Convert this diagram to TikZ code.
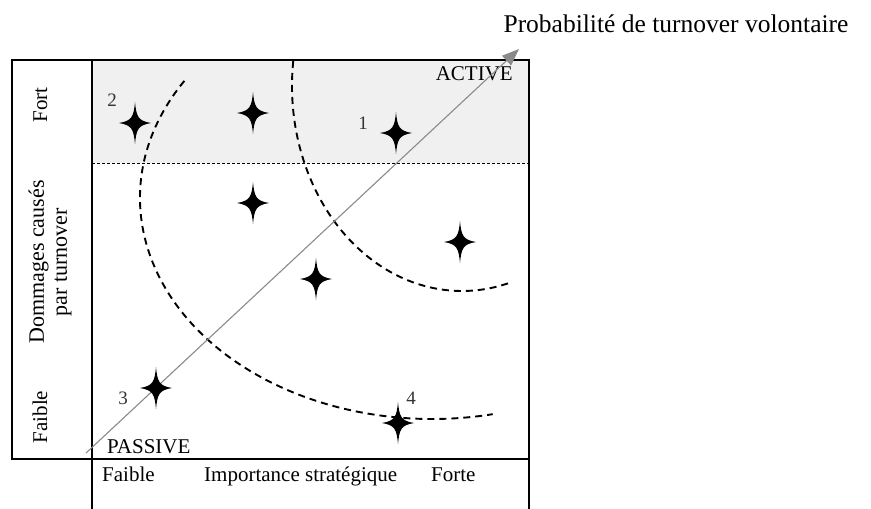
\documentclass[tikz,border=0pt]{standalone}
\usepackage{fontspec}
\setmainfont{Liberation Serif}
\usetikzlibrary{positioning,arrows.meta}
\definecolor{cZone}{HTML}{F0F0F0}
\definecolor{cAxe}{HTML}{8A8A8A}
\definecolor{cNum}{HTML}{333333}
\tikzset{
  cadre/.style={line width=2pt, line cap=rect},
  seuil/.style={line width=0.8pt, dash pattern=on 3pt off 2pt},
  courbe/.style={line width=1.9pt, dash pattern=on 7pt off 5pt},
  axe/.style={-{Triangle[length=17pt,width=13pt]}, line width=1.1pt, cAxe},
  lbl/.style={font=\fontsize{21}{22}\selectfont, inner sep=0pt},
  titre/.style={font=\fontsize{25.5}{28}\selectfont, inner sep=0pt},
  num/.style={font=\fontsize{19}{21}\selectfont, text=cNum, inner sep=0pt},
  vlbl/.style={lbl, rotate=90, align=center},
  etoile/.pic={\fill (0,-21) .. controls (1.4,-6) and (3.2,-2.2) .. (16,0)
      .. controls (3.2,2.2) and (1.4,6) .. (0,21)
      .. controls (-1.4,6) and (-3.2,2.2) .. (-16,0)
      .. controls (-3.2,-2.2) and (-1.4,-6) .. cycle;},
}

\begin{document}
\begin{tikzpicture}[x=1pt, y=-1pt]
    \useasboundingbox (0,0) rectangle (871,509);
    \fill[cZone] (92,60) rectangle (529,163);
    \draw[seuil] (92,163) -- (529,163);
    \draw[cadre] (12,459) -- (12,60) -- (529,60) -- (529,509);
    \draw[cadre] (92,60) -- (92,509);
    \draw[cadre] (12,459) -- (529,459);

    \draw[courbe] (432,198) ++(212:292 and 221)
      arc[start angle=212, end angle=78, x radius=292, y radius=221];
    \draw[courbe] (462,86) ++(187:170 and 205)
      arc[start angle=187, end angle=74, x radius=170, y radius=205];

    \node[titre, anchor=base] (proba) at (676,32) {Probabilité de turnover volontaire};
    \node[lbl, anchor=base east] (actif) at (513,80) {ACTIVE};
    \node[lbl, anchor=base west] (passif) at (107,453) {PASSIVE};
    \coordinate (origine) at (86,453);
    \coordinate (pointe) at (519,49);
    \draw[axe] (origine) -- (pointe);

    \node[lbl, anchor=base west] (impF) at (102,481) {Faible};
    \node[lbl, anchor=base west] (imp) at (204,481) {Importance stratégique};
    \node[lbl, anchor=base west] (impT) at (431,481) {Forte};
    \node[vlbl, anchor=base] (domT) at (47,105) {Fort};
    \node[vlbl, font=\fontsize{22}{23}\selectfont] (dom) at (50,262) {Dommages causés\\par turnover};
    \node[vlbl, anchor=base] (domF) at (47,417) {Faible};

    \pic (e2) at (135,123) {etoile};
    \pic (eA) at (253,113) {etoile};
    \pic (e1) at (396,133) {etoile};
    \pic (eB) at (253,203) {etoile};
    \pic (eC) at (460,242) {etoile};
    \pic (eD) at (316,279) {etoile};
    \pic (e3) at (156,388) {etoile};
    \pic (e4) at (398,423) {etoile};

    \node[num] (n2) at (112,100) {2};
    \node[num] (n1) at (363,123) {1};
    \node[num] (n3) at (123,398) {3};
    \node[num] (n4) at (411,398) {4};
\end{tikzpicture}
\end{document}
